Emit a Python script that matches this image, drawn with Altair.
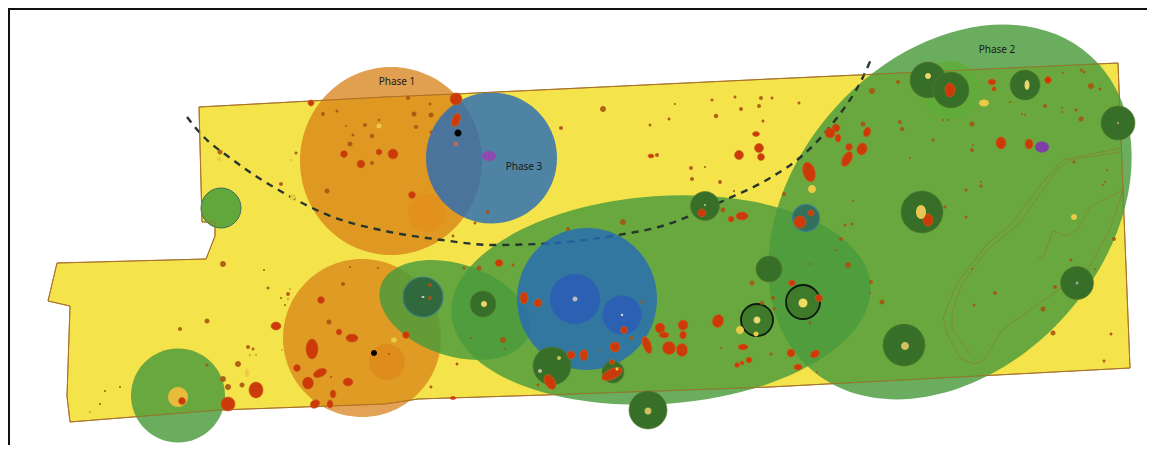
import altair as alt
import pandas as pd

# site outline
site_x = [199, 385, 455, 770, 1118, 1130, 770, 545, 418, 385, 220, 70, 67, 70, 48, 57, 206, 215, 215, 202, 199]
site_y = [107, 97, 94, 79, 63, 368, 387, 395, 399, 404, 410, 422, 396, 306, 301, 263, 259, 236, 222, 222, 107]

# dashed arc
arc_x = [187, 200, 233, 282, 333, 385, 442, 492, 538, 612, 662, 725, 770, 803, 833, 863, 872]
arc_y = [117, 133, 160, 192, 217, 231, 240, 245, 244, 236, 226, 200, 178, 155, 123, 77, 57]

# contour lines (x, y)
contour_outer = [(1120,148),(1063,160),(1047,177),(1010,225),(987,244),(957,283),(943,318),(947,333),(960,358),(973,364),(983,361),(1003,329),(1057,291),(1090,266),(1110,229),(1123,190)]
contour_inner = [(1120,152),(1070,160),(1057,170),(1018,225),(988,249),(962,284),(952,313),(952,329),(970,354)]
contour_spur = [(1037,258),(1043,258),(1053,231),(1067,236),(1078,229),(1090,207),(1123,190)]

ORANGE = "#D78015"; GREEN = "#499B3C"; BLUE = "#246AB9"; DARK = "#376E28"
RED = "#CC3A0A"; DOT = "#A9530F"; YEL = "#EBCB45"

# x, y, rx, ry, angle, fill, opacity, stroke
translucent = [
    (391, 161, 91, 94, 0, ORANGE, .75, "transparent"),
    (427, 213, 19, 19, 0, "#E48A1C", .55, "transparent"),
    (362, 338, 79, 79, 0, ORANGE, .72, "transparent"),
    (387, 362, 18, 18, 0, "#DE8418", .6, "transparent"),
    (178, 395.5, 47, 47, 0, GREEN, .82, "transparent"),
    (178, 397, 10, 10, 0, "#E8BB3A", 1, "transparent"),
    (455, 310, 78, 46, 18, GREEN, .82, "transparent"),
    (661, 300, 210, 104, 356, GREEN, .82, "transparent"),
    (950, 212, 210, 155, 312, GREEN, .82, "transparent"),
    (950, 90, 29, 29, 0, "#5FAB3A", .85, "transparent"),
]
small_green = [(221, 208, 20, 20, 0, "#60A83C", 1, "#3E6E5A")]
blues = [
    (491.5, 158, 65.5, 65.5, 0, BLUE, .8, "transparent"),
    (587, 299, 70, 71, 0, BLUE, .8, "transparent"),
    (575, 299, 25, 25, 0, "#2A5DB4", .9, "transparent"),
    (622, 315, 19.5, 19.5, 0, "#2A5DB4", .9, "transparent"),
]
# x, y, r, stroke
dark_x = [705, 769, 483, 552, 613, 648, 928, 951, 1025, 1118, 922, 904, 1077]
dark_y = [206, 269, 304, 366, 372, 410, 80, 90, 85, 123, 212, 345, 283]
dark_r = [14.5, 13, 13, 19, 11, 19, 18, 18, 15, 17, 21, 21, 16.5]
ringed = [
    (423, 297, 20, 20, 0, "#30693C", 1, "#3F7F80"),
    (806, 218, 13.5, 13.5, 0, "#33705A", 1, "#3F7F90"),
    (757, 320, 16, 16, 0, "#3F7A2B", 1, "#0E1A10"),
    (803, 302, 17, 17, 0, "#3F7A2B", 1, "#0E1A10"),
]
# small dots x, y, r
dots = [
    (323,114,2),(337,111,1.5),(379,120,1.3),(365,125,2),(353,135,1.5),(372,136,2.2),(350,144,2.5),(372,163,2),
    (327,191,2.5),(281,184,2),(296,153,1.5),(220,152,2.5),(346,126,1),(408,98,2),(430,104,1.5),(414,114,2.5),
    (431,115,2.5),(416,127,2),(431,132,1.5),(488,212,2),(475,223,1.5),(561,128,2),(603,109,3),(675,104,1),
    (669,119,1.5),(650,125,1.5),(657,155,2),(712,100,1.5),(735,97,1.5),(741,109,2),(716,116,2.2),(761,98,2),
    (759,106,2),(763,121,1.5),(691,168,2),(692,179,2),(705,167,1),(720,182,2),(734,191,1),(723,210,2.5),
    (623,222,3),(479,268,2.5),(513,265,1.5),(464,268,1.5),(453,236,1.5),(568,229,2),(430,285,2),(430,298,2),
    (503,340,3),(471,338,1),(505,349,1),(457,364,1.5),(431,387,1.5),(538,385,1.5),(631,338,2),(752,283,2.5),
    (762,303,2),(721,348,1),(642,302,1.5),(598,350,1),(872,91,3),(898,82,2),(863,124,2.5),(900,122,2),(902,129,2.2),
    (784,194,2),(772,98,1.5),(799,103,1.5),(853,201,1),(845,225,1.5),(852,224,1.5),(910,158,1),(933,140,1.5),
    (972,124,2.5),(973,145,1),(972,150,2),(981,182,1),(981,186,1.5),(966,190,1.5),(966,217,1.5),(945,207,1.5),
    (943,120,1),(948,120,1),(994,89,2),(1010,102,1),(1022,114,1),(1025,115,1),(1045,106,2),(1063,73,1),(1081,70,1.5),
    (1084,72,1.5),(1091,86,3),(1100,89,1.5),(1062,108,1),(1062,112,1),(1076,110,1.5),(1081,119,2.5),(1074,162,1.5),
    (1107,170,1),(1105,182,1),(1103,185,1),(841,239,2),(836,250,1),(810,264,1),(848,265,3),(871,282,2),(870,293,1),
    (882,302,2.5),(773,298,2),(774,309,1.5),(810,323,1.5),(817,372,1),(771,354,1.5),(1114,239,2),(1071,260,1.5),
    (1095,269,1),(1055,287,2),(1043,309,2.5),(1053,333,2.5),(1111,334,1.5),(1104,361,1.5),(995,293,2),(974,305,1.5),
    (972,269,1),(223,264,3),(264,270,1),(268,288,1.5),(288,294,2),(281,298,1),(285,305,1),(288,299,.8),(290,289,.8),
    (207,321,2.5),(180,329,2),(248,347,2),(253,349,1.5),(250,355,.8),(256,355,.8),(238,364,3),(207,365,1.5),
    (223,379,3),(228,387,3),(242,385,2.5),(105,391,1),(120,387,1),(100,404,1),(90,412,.8),(343,284,2),(350,267,1),
    (378,268,1),(329,322,2.5),(331,377,1),(282,350,.7),(389,354,1),
]
# red blobs x, y, rx, ry, angle
blobs = [
    (311,103,3,3,0),(344,154,3.5,3.5,0),(379,152,3,3,0),(361,164,4,4,0),(393,154,5,5,0),(412,195,3.5,3.5,0),
    (456,99,6,6,0),(456,120,4,7,20),(651,156,3,2,0),(756,134,3.5,2.5,0),(759,148,4.5,4.5,0),(761,157,3.5,3.5,0),
    (739,155,4.5,4.5,0),(702,213,4,4,0),(731,219,3,3,0),(742,216,6,4,0),(499,263,4,3.5,0),(406,335,3.5,3.5,0),
    (453,398,3,1.5,0),(524,298,4,6,0),(538,303,4,4,0),(571,355,4,4,0),(584,355,4,5.5,0),(615,347,5,5,0),
    (624,330,3.5,3.5,0),(647,345,4,9,340),(660,328,5,5,0),(664,335,5,3,0),(683,325,5,5,0),(683,335,3.5,4,0),
    (669,348,6.5,6.5,0),(682,350,5.5,6.5,0),(718,321,5.5,6.5,20),(743,347,5,3,0),(737,365,2.5,2.5,0),
    (742,363,2,2,0),(749,360,3,3,0),(550,382,5,8,330),(612,374,11,5,335),(612,362,2.5,2.5,0),(836,128,4,4,0),
    (830,133,5,5,0),(838,138,3,4,0),(849,147,3.5,3.5,0),(862,149,5,6,20),(847,159,4.5,8,30),(809,172,6,10,345),
    (867,132,3.5,5,20),(800,222,6,6,0),(811,213,3,3,0),(1001,143,5,6,0),(1029,144,4,5,0),(992,82,4,3,0),
    (994,89,2,2,0),(1048,80,3.5,3.5,0),(950,90,5,7,0),(928,220,5,6,0),(923,212,2,2,0),(819,298,3.5,3.5,0),
    (792,283,3.5,3,0),(791,353,4,4,0),(815,354,5,3.5,330),(798,367,4,3,0),(276,326,5,4,0),(256,390,7,8,0),
    (228,404,7,7,0),(182,401,3.5,3.5,0),(321,300,3.5,3.5,0),(339,332,3,3,0),(352,338,6,4,0),(312,349,6,10,0),
    (297,368,3.5,3.5,0),(320,373,7,4,335),(308,383,5.5,6,0),(348,382,5,4,0),(333,394,3,4,0),(330,404,3,4,0),
    (315,404,5,4,330),
]
# x, y, rx, ry, fill
details = [
    (458,133,3.5,3.5,"#000000"),(374,353,3,3,"#000000"),(456,144,2.5,2.5,"#B86A60"),
    (489,156,7,5,"#8F4AB0"),(1042,147,7,5.5,"#7E3FA8"),
    (293,197,3,3,YEL),(219,159,2,2,YEL),(291,160,1.5,1.5,YEL),(379,126,2.5,2.5,YEL),(247,373,2,4,YEL),(394,340,3,2.5,YEL),
    (740,330,4,4,YEL),(756,334,2.5,2.5,YEL),(559,358,2,2,"#C9C060"),(540,371,2,2,"#C0C0A0"),(484,304,3,3,"#E8D770"),
    (757,320,3.5,3.5,"#E8D770"),(803,303,4.5,4.5,"#F0DE60"),(648,411,3.5,3.5,"#D0C25A"),(617,369,1.5,1.5,YEL),
    (812,189,4,4,YEL),(984,103,5,3.5,YEL),(1074,217,3,3,YEL),(928,76,3,3,"#E8D770"),(1027,85,2.5,5,"#E8D770"),
    (921,212,5,7,"#E8C850"),(905,346,4,4,"#D5C060"),(575,299,2.5,2.5,"#BBBBBB"),(622,315,1.2,1.2,"#DDDDDD"),
    (423,297,1.5,1,"#CCCCCC"),(705,205,1,1,"#AACC99"),(1077,283,1.5,1.5,"#88AAAA"),(1118,123,1,1,"#C9A050"),
]
labels = ["Phase 1", "Phase 2", "Phase 3"]
label_x = [397, 997, 524]
label_y = [82, 50, 167]

X = alt.X("x:Q", scale=alt.Scale(domain=[8, 1147], nice=False, zero=False), axis=None)
Y = alt.Y("y:Q", scale=alt.Scale(domain=[445, 8], nice=False, zero=False), axis=None)


def ellipse_path(k):
    c = 0.5523
    return (f"M-1,0C-1,{-c*k:.3f} {-c:.3f},{-k:.3f} 0,{-k:.3f}"
            f"C{c:.3f},{-k:.3f} 1,{-c*k:.3f} 1,0"
            f"C1,{c*k:.3f} {c:.3f},{k:.3f} 0,{k:.3f}"
            f"C{-c:.3f},{k:.3f} -1,{c*k:.3f} -1,0Z")


def shapes(rows, stroke_width=0):
    df = pd.DataFrame(rows, columns=["x", "y", "rx", "ry", "angle", "fill", "opacity", "stroke"])
    df["size"] = (2 * df["rx"]) ** 2
    df["shape"] = [ellipse_path(b / a) for a, b in zip(df["rx"], df["ry"])]
    return alt.Chart(df).mark_point(filled=True, strokeWidth=stroke_width).encode(
        x=X, y=Y,
        size=alt.Size("size:Q", scale=None),
        shape=alt.Shape("shape:N", scale=None),
        angle=alt.Angle("angle:Q", scale=None),
        fill=alt.Fill("fill:N", scale=None),
        stroke=alt.Stroke("stroke:N", scale=None),
        opacity=alt.Opacity("opacity:Q", scale=None),
    )


def path(xs, ys, **kw):
    df = pd.DataFrame({"x": xs, "y": ys, "i": range(len(xs))})
    return alt.Chart(df).mark_line(**kw).encode(x=X, y=Y, order="i:Q")


def contour(pts):
    return path([p[0] for p in pts], [p[1] for p in pts], stroke="#8A7F28", strokeWidth=0.8, opacity=0.9)


layers = [
    path(site_x, site_y, fill="#F5E34B", stroke="#B07A2A", strokeWidth=1),
    shapes(translucent),
    shapes(small_green, 1),
    contour(contour_outer), contour(contour_inner), contour(contour_spur),
    path(arc_x, arc_y, stroke="#26362F", strokeWidth=2.4, strokeDash=[7, 6], interpolate="monotone"),
    shapes(blues),
    path(site_x, site_y, stroke="#A5702A", strokeWidth=1, opacity=0.85),
    shapes([(x, y, r, r, 0, DARK, 1, "#5B7A2E") for x, y, r in zip(dark_x, dark_y, dark_r)], 0.6),
    shapes(ringed[:2], 1.2),
    shapes(ringed[2:], 1.8),
    shapes([(x, y, r, r, 0, DOT, .9, "transparent") for x, y, r in dots]),
    shapes([(x, y, a, b, ang, RED, 1, "#C8641E") for x, y, a, b, ang in blobs], 0.6),
    shapes([(x, y, a, b, 0, f, 1, "transparent") for x, y, a, b, f in details]),
    alt.Chart(pd.DataFrame({"x": label_x, "y": label_y, "t": labels})).mark_text(
        font="Noto Sans", fontSize=10, color="#1A1A1A").encode(x=X, y=Y, text="t:N"),
    path([9, 9, 1147], [445, 9, 9], stroke="#111111", strokeWidth=2),
]

chart = alt.layer(*layers).properties(
    width=1139, height=437, padding=0, autosize="none", background="#FFFFFF"
).configure_view(stroke=None)

chart.save("out.html", embed_options={"renderer": "svg", "actions": False})
